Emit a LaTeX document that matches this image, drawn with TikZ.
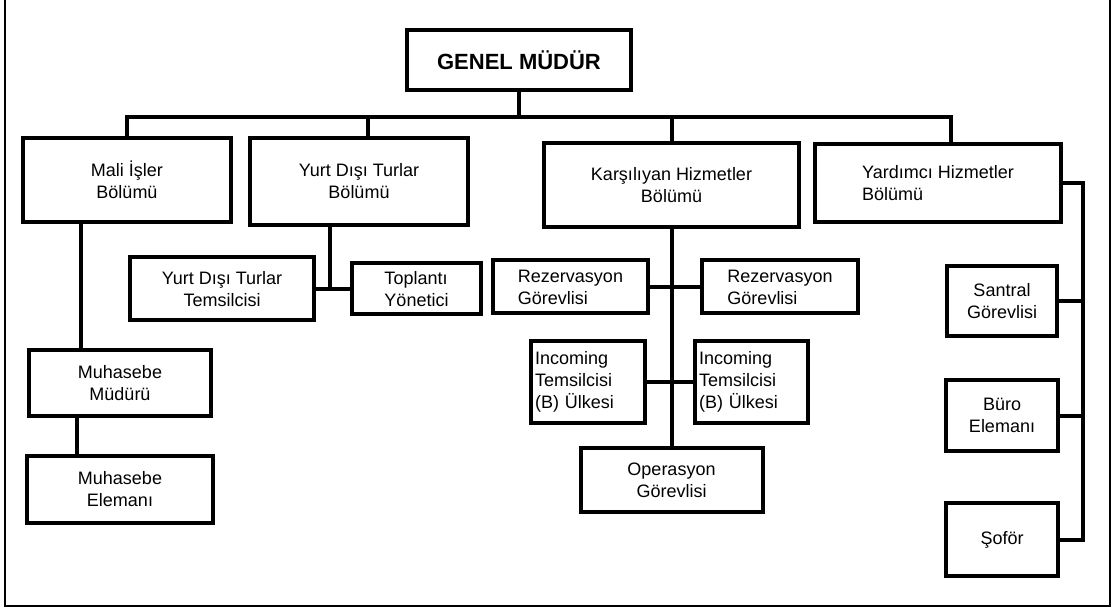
\documentclass[tikz,border=0pt]{standalone}
\usepackage{fontspec}
\setmainfont{Liberation Sans}
\usetikzlibrary{positioning}

\begin{document}
\begin{tikzpicture}[x=1pt, y=-1pt,
    unit/.style={rectangle, draw, line width=4pt, inner sep=3pt, align=center,
      font=\fontsize{18}{22}\selectfont},
    link/.style={line width=4pt},
    frame/.style={line width=2.5pt}]
  \useasboundingbox (0,0) rectangle (1113,609);
  \draw[frame] (5,0) -- (5,606) -- (1110,606) -- (1110,0);

  % top
  \node[unit, minimum width=224, minimum height=60, font=\fontsize{22}{26}\selectfont\bfseries] (gm) at (519,60) {GENEL MÜDÜR};

  % departments
  \node[unit, minimum width=208, minimum height=84] (mali) at (127,180) {Mali İşler\\Bölümü};
  \node[unit, minimum width=218, minimum height=87] (ydt) at (359,181.5) {Yurt Dışı Turlar\\Bölümü};
  \node[unit, minimum width=255, minimum height=84] (karsi) at (671.5,185) {Karşılıyan Hizmetler\\Bölümü};
  \node[unit, minimum width=246, minimum height=78, align=left] (yard) at (938,183) {Yardımcı Hizmetler\\Bölümü};

  % Mali Isler
  \node[unit, minimum width=182, minimum height=66] (mudur) at (120,383) {Muhasebe\\Müdürü};
  \node[unit, minimum width=186, minimum height=67, below=36pt of mudur] (elem) {Muhasebe\\Elemanı};

  % Yurt Disi Turlar
  \node[unit, minimum width=184, minimum height=63] (temsil) at (222,289) {Yurt Dışı Turlar\\Temsilcisi};
  \node[unit, minimum width=129, minimum height=51, align=left, right=34pt of temsil] (toplanti) {Toplantı\\Yönetici};

  % Karsilayan Hizmetler
  \node[unit, minimum width=155, minimum height=53, align=left] (rez1) at (570.5,287) {Rezervasyon\\Görevlisi};
  \node[unit, minimum width=156, minimum height=53, align=left, right=50pt of rez1] (rez2) {Rezervasyon\\Görevlisi};
  \node[unit, minimum height=82, inner xsep=4pt, text width=106pt, align=left] (inc1) at (588,382) {Incoming\\Temsilcisi\\(B) Ülkesi};
  \node[unit, minimum height=82, inner xsep=4pt, text width=105pt, align=left, right=46pt of inc1] (inc2) {Incoming\\Temsilcisi\\(B) Ülkesi};
  \node[unit, minimum width=182, minimum height=64] (oper) at (671.5,480) {Operasyon\\Görevlisi};

  % Yardimci Hizmetler
  \node[unit, minimum width=110, minimum height=70] (santral) at (1002,301) {Santral\\Görevlisi};
  \node[unit, minimum width=112, minimum height=71, below=40pt of santral] (buro) {Büro\\Elemanı};
  \node[unit, minimum width=112, minimum height=73, below=48pt of buro] (sofor) {Şoför};

  % connectors
  \coordinate (bus) at (519,117);
  \draw[link] (gm) -- (bus);
  \draw[link] (mali.north) |- (bus);
  \draw[link] ([xshift=9pt]ydt.north) |- (bus);
  \draw[link] (karsi.north) |- (bus);
  \draw[link] ([xshift=13pt]yard.north) |- (bus);

  \coordinate (maliout) at ([xshift=-46pt]mali.south);
  \coordinate (mudurout) at ([xshift=-43pt]mudur.south);
  \draw[link] (maliout) -- (maliout |- mudur.north);
  \draw[link] (mudurout) -- (mudurout |- elem.north);

  \coordinate (ydtout) at ([xshift=-29pt]ydt.south);
  \draw[link] (ydtout) -- (ydtout |- temsil.east);
  \draw[link] (temsil) -- (toplanti);

  \draw[link] (karsi) -- (oper);
  \draw[link] (rez1) -- (rez2);
  \draw[link] (inc1) -- (inc2);

  \coordinate (rail) at (1083,183);
  \draw[link] (yard.east) -| (rail |- sofor.east) -- (sofor.east);
  \draw[link] (santral.east) -- (santral.east -| rail);
  \draw[link] (buro.east) -- (buro.east -| rail);
\end{tikzpicture}
\end{document}
